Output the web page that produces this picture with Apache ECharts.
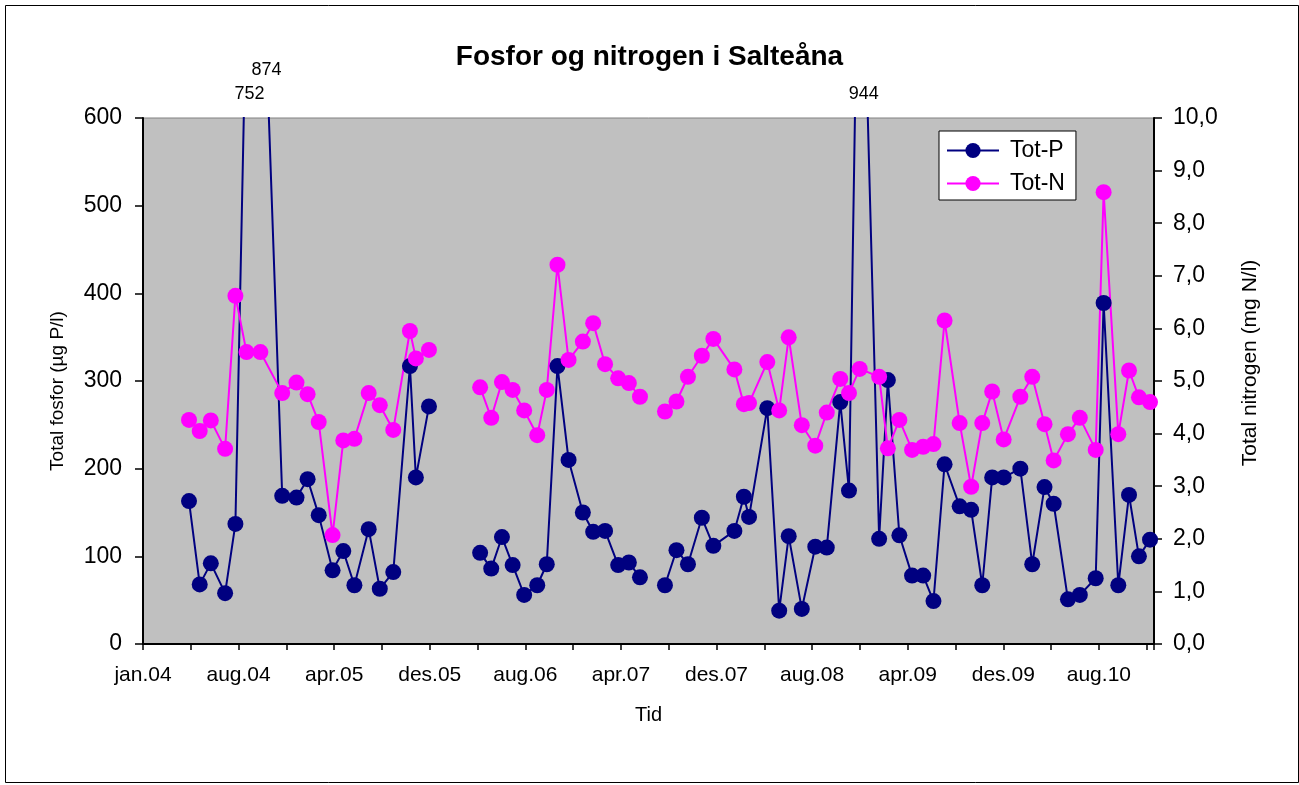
<!DOCTYPE html>
<html>
<head>
<meta charset="utf-8">
<title>Fosfor og nitrogen i Salteåna</title>
<script src="https://cdn.jsdelivr.net/npm/echarts@6/dist/echarts.min.js"></script>
<style>
  html, body { margin: 0; padding: 0; background: #ffffff; }
  #chart { width: 1299px; height: 785px; }
</style>
</head>
<body>
<div id="chart"></div>
<script>
// Sampling dates (Salteåna)
const sampleDates = [
  '2004-04-26', '2004-05-23', '2004-06-20', '2004-07-26', '2004-08-21', '2004-09-18', '2004-10-23', '2004-12-17',
  '2005-01-22', '2005-02-19', '2005-03-19', '2005-04-23', '2005-05-20', '2005-06-17', '2005-07-23', '2005-08-20',
  '2005-09-23', '2005-11-04', '2005-11-19', '2005-12-22',
  '2006-04-30', '2006-05-28', '2006-06-24', '2006-07-21', '2006-08-19', '2006-09-21', '2006-10-15', '2006-11-11',
  '2006-12-09', '2007-01-14', '2007-02-09', '2007-03-11', '2007-04-13', '2007-05-10', '2007-06-07',
  '2007-08-09', '2007-09-07', '2007-10-06', '2007-11-10', '2007-12-09', '2008-01-31', '2008-02-24', '2008-03-08',
  '2008-04-23', '2008-05-23', '2008-06-16', '2008-07-19', '2008-08-22', '2008-09-20', '2008-10-24', '2008-11-15',
  '2008-12-12', '2009-01-30', '2009-02-21', '2009-03-22', '2009-04-23', '2009-05-21', '2009-06-16', '2009-07-14',
  '2009-08-21', '2009-09-19', '2009-10-17', '2009-11-11', '2009-12-10', '2010-01-21', '2010-02-20', '2010-03-23',
  '2010-04-15', '2010-05-21', '2010-06-20', '2010-07-30', '2010-08-19', '2010-09-25', '2010-10-22', '2010-11-16',
  '2010-12-14'
];

// Total fosfor (µg P/l)
const totP = [
  163, 68, 92, 58, 137, 752, 874, 169,
  167, 188, 147, 84, 106, 67, 131, 63,
  82, 317, 190, 271,
  104, 86, 122, 90, 56, 67, 91, 317,
  210, 150, 128, 129, 90, 93, 76,
  67, 107, 91, 144, 112, 129, 168, 145,
  269, 38, 123, 40, 111, 110, 276, 175,
  944, 120, 301, 124, 78, 78, 49, 205,
  157, 153, 67, 190, 190, 200, 91, 179,
  160, 51, 56, 75, 389, 67, 170, 100,
  119
];

// Total nitrogen (mg N/l)
const totN = [
  4.26, 4.05, 4.25, 3.71, 6.62, 5.55, 5.55, 4.77,
  4.97, 4.75, 4.22, 2.07, 3.87, 3.90, 4.77, 4.54,
  4.07, 5.95, 5.43, 5.59,
  4.88, 4.30, 4.98, 4.83, 4.44, 3.97, 4.83, 7.21,
  5.40, 5.75, 6.10, 5.32, 5.05, 4.96, 4.70,
  4.42, 4.61, 5.08, 5.48, 5.80, 5.22, 4.56, 4.58,
  5.36, 4.44, 5.83, 4.16, 3.77, 4.40, 5.04, 4.77,
  5.23, 5.08, 3.72, 4.26, 3.69, 3.75, 3.80, 6.15,
  4.20, 2.99, 4.20, 4.80, 3.89, 4.70, 5.08, 4.18,
  3.49, 3.99, 4.30, 3.69, 8.59, 3.99, 5.20, 4.69,
  4.60
];

// Indices after which there was a pause in sampling (line is broken)
const gapAfter = [19, 34];

// Time axis labels (one on every second tick)
const xTickLabels = ['jan.04', 'aug.04', 'apr.05', 'des.05', 'aug.06', 'apr.07',
                     'des.07', 'aug.08', 'apr.09', 'des.09', 'aug.10'];

// Axis scales
const xTickStep = 120.5;      // days between ticks
const xMaxDay = 2549;         // days after 1 Jan 2004
const pMax = 600, pStep = 100;
const nMax = 10, nStep = 1;

const FONT = '"Liberation Sans", Arial, Helvetica, sans-serif';
const P_COLOR = '#000080';
const N_COLOR = '#FF00FF';

const dayNo = s => {
  const [y, m, d] = s.split('-').map(Number);
  return (Date.UTC(y, m - 1, d) - Date.UTC(2004, 0, 1)) / 86400000;
};

function buildSeriesData(values) {
  const out = [];
  sampleDates.forEach((s, i) => {
    out.push([dayNo(s), values[i]]);
    if (gapAfter.includes(i)) out.push([dayNo(s) + 1, '-']);
  });
  return out;
}

// Off-scale phosphorus values get their number written above the plot
const peakShift = [[3, -24], [6, -48], [4, -24]];
const peaks = sampleDates
  .map((s, i) => ({ x: dayNo(s), v: totP[i] }))
  .filter(p => p.v > pMax);

const chart = echarts.init(document.getElementById('chart'), null, { renderer: 'canvas' });

chart.setOption({
  animation: false,
  backgroundColor: '#ffffff',
  textStyle: { fontFamily: FONT },
  title: {
    text: 'Fosfor og nitrogen i Salteåna',
    left: 'center',
    top: 38,
    textStyle: { fontFamily: FONT, fontSize: 28, fontWeight: 'bold', color: '#000' }
  },
  graphic: [{
    type: 'rect',
    left: 3, top: 3,
    shape: { width: 1293, height: 777 },
    style: { fill: 'none', stroke: '#000', lineWidth: 1 },
    silent: true
  }],
  legend: {
    orient: 'vertical',
    left: 939, top: 131,
    itemWidth: 52, itemHeight: 19,
    itemGap: 10,
    padding: [8, 11, 5, 7],
    backgroundColor: '#ffffff',
    borderColor: '#000',
    borderWidth: 1,
    borderRadius: 0,
    textStyle: { fontFamily: FONT, fontSize: 23, color: '#000', padding: [0, 0, 0, 6] },
    data: ['Tot-P', 'Tot-N']
  },
  grid: {
    left: 143, right: 145, top: 118, bottom: 141,
    show: true,
    backgroundColor: '#C0C0C0',
    borderColor: '#808080',
    borderWidth: 1
  },
  xAxis: {
    type: 'value',
    min: 0, max: xMaxDay, interval: xTickStep,
    axisLine: { show: true, lineStyle: { color: '#000', width: 2 } },
    axisTick: { show: true, length: 6, lineStyle: { color: '#000', width: 1.5 } },
    splitLine: { show: false },
    axisLabel: {
      color: '#000', fontFamily: FONT, fontSize: 21, margin: 21,
      formatter: v => {
        const k = Math.round(v / (2 * xTickStep));
        return (Math.abs(v - k * 2 * xTickStep) < 1e-6 && k < xTickLabels.length) ? xTickLabels[k] : '';
      }
    },
    name: 'Tid',
    nameLocation: 'middle',
    nameGap: 61,
    nameTextStyle: { fontFamily: FONT, fontSize: 20, color: '#000' }
  },
  yAxis: [{
    type: 'value',
    position: 'left',
    min: 0, max: pMax, interval: pStep,
    axisLine: { show: true, lineStyle: { color: '#000', width: 2 } },
    axisTick: { show: true, length: 8, lineStyle: { color: '#000', width: 1.5 } },
    splitLine: { show: false },
    axisLabel: { color: '#000', fontFamily: FONT, fontSize: 23, margin: 21 },
    name: 'Total fosfor (µg P/l)',
    nameLocation: 'middle',
    nameGap: 76,
    nameTextStyle: { fontFamily: FONT, fontSize: 19, color: '#000', padding: [0, 20, 0, 0] }
  }, {
    type: 'value',
    position: 'right',
    min: 0, max: nMax, interval: nStep,
    axisLine: { show: true, lineStyle: { color: '#000', width: 2 } },
    axisTick: { show: true, length: 8, lineStyle: { color: '#000', width: 1.5 } },
    splitLine: { show: false },
    axisLabel: {
      color: '#000', fontFamily: FONT, fontSize: 23, margin: 19,
      formatter: v => v.toFixed(1).replace('.', ',')
    },
    name: 'Total nitrogen (mg N/l)',
    nameLocation: 'middle',
    nameGap: 86,
    nameTextStyle: { fontFamily: FONT, fontSize: 21, color: '#000', padding: [0, 0, 0, 36] }
  }],
  series: [{
    name: 'Tot-P',
    type: 'line',
    yAxisIndex: 0,
    data: buildSeriesData(totP),
    symbol: 'circle',
    symbolSize: 16,
    connectNulls: false,
    clip: true,
    itemStyle: { color: P_COLOR },
    lineStyle: { color: P_COLOR, width: 2 },
    markPoint: {
      symbol: 'circle',
      symbolSize: 0,
      silent: true,
      label: { show: true, position: 'inside', color: '#000', fontFamily: FONT, fontSize: 18, formatter: '{c}' },
      data: peaks.map((p, k) => ({ coord: [p.x, pMax], value: p.v, label: { offset: peakShift[k] } }))
    }
  }, {
    name: 'Tot-N',
    type: 'line',
    yAxisIndex: 1,
    data: buildSeriesData(totN),
    symbol: 'circle',
    symbolSize: 16,
    connectNulls: false,
    clip: true,
    itemStyle: { color: N_COLOR },
    lineStyle: { color: N_COLOR, width: 2 }
  }]
});
</script>
</body>
</html>
